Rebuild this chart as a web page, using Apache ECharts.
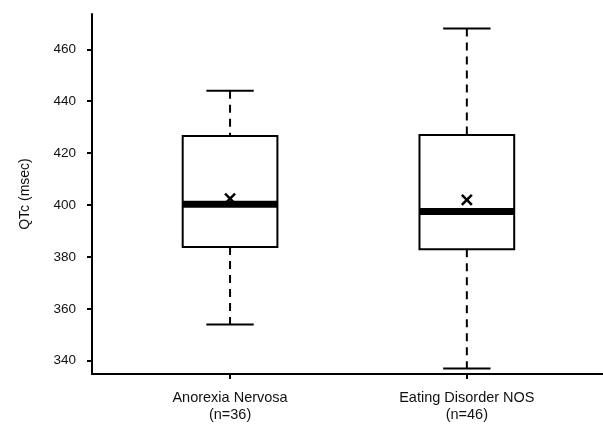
<!DOCTYPE html>
<html>
<head>
<meta charset="utf-8">
<script src="https://cdn.jsdelivr.net/npm/echarts@6/dist/echarts.min.js"></script>
<style>
html,body{margin:0;padding:0;background:#fff;}
#chart{width:603px;height:433px;}
</style>
</head>
<body>
<div id="chart"></div>
<script>
// ---- Data ----
const categories = ['Anorexia Nervosa\n(n=36)', 'Eating Disorder NOS\n(n=46)'];
const positions = [1, 2];
const whiskerLow = [354, 337];
const q1 = [383.8, 383.0];
const median = [400.3, 397.5];
const q3 = [426.6, 427.0];
const whiskerHigh = [444, 468];
const mean = [402.5, 402.0];
const yTicks = [340, 360, 380, 400, 420, 440, 460];

const data = positions.map((p, i) => [p, whiskerLow[i], q1[i], median[i], q3[i], whiskerHigh[i], mean[i]]);

const chart = echarts.init(document.getElementById('chart'), null, {renderer: 'canvas'});
const font = 'Liberation Sans, Arial, Helvetica, sans-serif';
const textColor = '#111';

function renderItem(params, api) {
  const x = api.value(0);
  const pLow = api.coord([x, api.value(1)]);
  const pQ1 = api.coord([x, api.value(2)]);
  const pMed = api.coord([x, api.value(3)]);
  const pQ3 = api.coord([x, api.value(4)]);
  const pHigh = api.coord([x, api.value(5)]);
  const pMean = api.coord([x, api.value(6)]);
  const cx = pLow[0];
  const halfBox = api.size([0.4, 0])[0] / 2;
  const halfCap = api.size([0.2, 0])[0] / 2;
  const stroke = {stroke: '#000', lineWidth: 2, fill: null};
  const dashed = {stroke: '#000', lineWidth: 2, lineDash: [8, 6]};
  const m = 5;
  return {
    type: 'group',
    children: [
      {type: 'line', shape: {x1: cx, y1: pHigh[1], x2: cx, y2: pQ3[1]}, style: dashed},
      {type: 'line', shape: {x1: cx, y1: pQ1[1], x2: cx, y2: pLow[1]}, style: dashed},
      {type: 'line', shape: {x1: cx - halfCap, y1: pHigh[1], x2: cx + halfCap, y2: pHigh[1]}, style: stroke},
      {type: 'line', shape: {x1: cx - halfCap, y1: pLow[1], x2: cx + halfCap, y2: pLow[1]}, style: stroke},
      {type: 'rect', shape: {x: cx - halfBox, y: pQ3[1], width: 2 * halfBox, height: pQ1[1] - pQ3[1]},
        style: {stroke: '#000', lineWidth: 2, fill: '#fff'}},
      {type: 'line', shape: {x1: cx - halfBox, y1: pMed[1], x2: cx + halfBox, y2: pMed[1]},
        style: {stroke: '#000', lineWidth: 7}},
      {type: 'line', shape: {x1: cx - m, y1: pMean[1] - m, x2: cx + m, y2: pMean[1] + m},
        style: {stroke: '#000', lineWidth: 2.5}},
      {type: 'line', shape: {x1: cx - m, y1: pMean[1] + m, x2: cx + m, y2: pMean[1] - m},
        style: {stroke: '#000', lineWidth: 2.5}}
    ]
  };
}

const option = {
  animation: false,
  backgroundColor: '#fff',
  grid: {left: 92, right: 0, top: 14, bottom: 59, containLabel: false},
  xAxis: {
    type: 'value',
    min: 0.417,
    max: 2.575,
    splitLine: {show: false},
    axisLine: {show: true, onZero: false, lineStyle: {color: '#000', width: 2}},
    axisTick: {show: true, customValues: positions, length: 5, lineStyle: {color: '#000', width: 2}},
    axisLabel: {
      customValues: positions,
      formatter: function (v) { const i = positions.indexOf(v); return i >= 0 ? categories[i] : ''; },
      color: textColor, fontFamily: font, fontSize: 14.5, lineHeight: 17, margin: 15
    }
  },
  yAxis: {
    type: 'value',
    min: 334.9,
    max: 473.6,
    name: 'QTc (msec)',
    nameLocation: 'middle',
    nameGap: 60,
    nameTextStyle: {color: textColor, fontFamily: font, fontSize: 14},
    splitLine: {show: false},
    axisLine: {show: true, onZero: false, lineStyle: {color: '#000', width: 2}},
    axisTick: {show: true, customValues: yTicks, length: 5, lineStyle: {color: '#000', width: 2}},
    axisLabel: {customValues: yTicks, color: textColor, fontFamily: font, fontSize: 13.5, margin: 16}
  },
  series: [{
    type: 'custom',
    renderItem: renderItem,
    data: data,
    encode: {x: 0, y: [1, 2, 3, 4, 5, 6]},
    clip: false
  }]
};
chart.setOption(option);
</script>
</body>
</html>
